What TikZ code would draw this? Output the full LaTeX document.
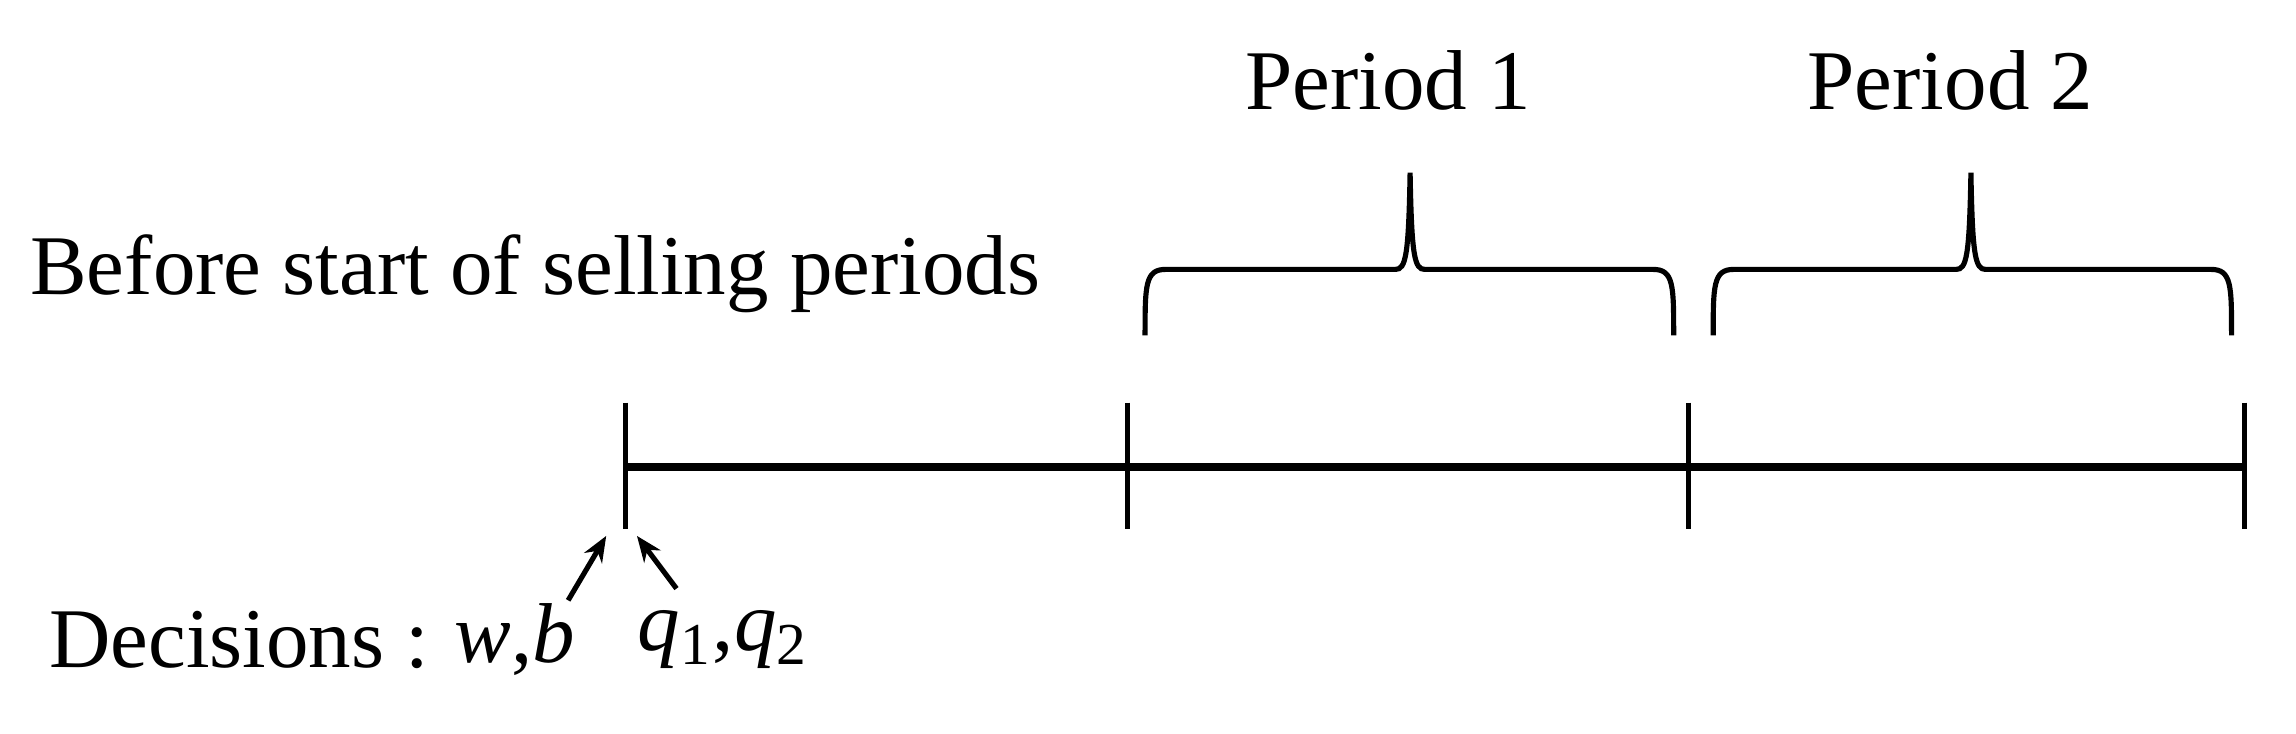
\documentclass[tikz,border=0pt]{standalone}
\usepackage{fontspec}
\setmainfont{Liberation Serif}
\usetikzlibrary{arrows.meta}
\begin{document}
\begin{tikzpicture}[x=0.01cm,y=-0.01cm,
  lbl/.style={inner sep=0pt,font=\fontsize{16.5pt}{19pt}\selectfont},
  tick/.style={line width=1pt},
  brace/.style={line width=1pt},
  arr/.style={line width=1pt,-{Stealth[length=5pt,width=4pt]}}]
\useasboundingbox (0,0) rectangle (1568,501);
% timeline
\coordinate (t0) at (427,319); \coordinate (t1) at (770,319);
\coordinate (t2) at (1153,319); \coordinate (t3) at (1533,319);
\draw[line width=1.5pt] (t0) -- (t3);
\foreach \c in {t0,t1,t2,t3} \draw[tick] ([yshift=0.44cm]\c) -- ([yshift=-0.42cm]\c);
% braces
\foreach \a/\m/\b in {782/963/1143, 1170/1346/1524}{
  \draw[brace] (\a,229) .. controls (\a,195) and (\a,184) .. (\a+14,184)
    -- (\m-10,184) .. controls (\m-3,184) and (\m-1,175) .. (\m,118)
    .. controls (\m+1,175) and (\m+3,184) .. (\m+10,184)
    -- (\b-14,184) .. controls (\b,184) and (\b,195) .. (\b,229);
}
\node[lbl] (p1) at (948,55) {Period 1};
\node[lbl] (p2) at (1332,55) {Period 2};
\node[lbl,anchor=west] (before) at (20,187) {Before start of selling periods};
\node[lbl,anchor=west] (dec) at (33,437) {Decisions :};
\node[lbl,anchor=west] (wb) at (310,437) {\textit{w},\textit{b}};
\node[lbl,anchor=west] (qq) at (435,437) {\textit{q}\textsubscript{1},\textit{q}\textsubscript{2}};
\coordinate (s1) at (388,410); \coordinate (s2) at (462,402);
\draw[arr] (s1) -- (414,366);
\draw[arr] (s2) -- (435,366);
\end{tikzpicture}
\end{document}
